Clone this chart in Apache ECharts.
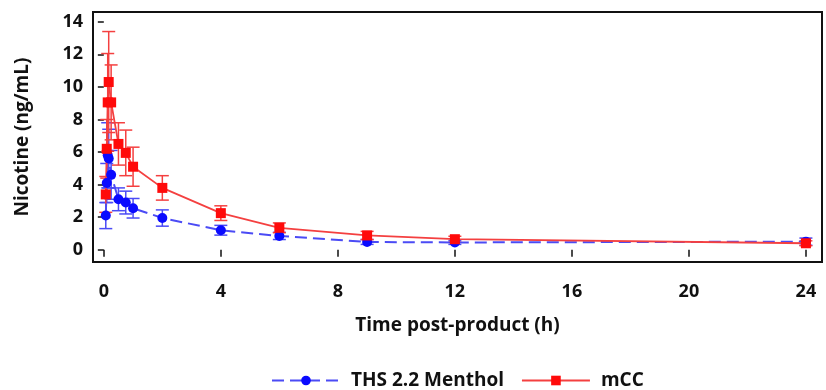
<!DOCTYPE html>
<html><head><meta charset="utf-8">
<script src="https://cdn.jsdelivr.net/npm/echarts@6/dist/echarts.min.js"></script>
<style>html,body{margin:0;padding:0;background:#fff}#c{width:826px;height:390px}</style>
</head><body><div id="c"></div>
<script>
var seriesNames = ['THS 2.2 Menthol', 'mCC'];
var thsTime = [0.067, 0.1, 0.133, 0.167, 0.25, 0.5, 0.75, 1, 2, 4, 6, 9, 12, 24];
var thsMean = [2.1, 4.1, 5.8, 5.6, 4.6, 3.1, 2.9, 2.55, 1.95, 1.2, 0.85, 0.48, 0.45, 0.5];
var thsErr  = [0.8, 1.2, 2.0, 1.8, 1.5, 0.7, 0.7, 0.6, 0.5, 0.3, 0.22, 0.15, 0.12, 0.22];
var mccTime = [0.067, 0.1, 0.133, 0.167, 0.25, 0.5, 0.75, 1, 2, 4, 6, 9, 12, 24];
var mccMean = [3.4, 6.2, 9.05, 10.3, 9.05, 6.5, 5.95, 5.1, 3.8, 2.25, 1.35, 0.88, 0.65, 0.4];
var mccErr  = [1.1, 1.8, 3.0, 3.1, 2.3, 1.3, 1.4, 1.2, 0.75, 0.45, 0.3, 0.25, 0.18, 0.15];
var xTicks = [0, 4, 8, 12, 16, 20, 24];
var yTicks = [0, 2, 4, 6, 8, 10, 12, 14];

function pairs(t, v) { return t.map(function (x, i) { return [x, v[i]]; }); }
function errData(t, v, e) { return t.map(function (x, i) { return [x, v[i] - e[i], v[i] + e[i]]; }); }
function errRender(color) {
  return function (params, api) {
    var lo = api.coord([api.value(0), api.value(1)]);
    var hi = api.coord([api.value(0), api.value(2)]);
    var w = 6.5;
    var st = { stroke: color, lineWidth: 1.5, fill: null };
    return { type: 'group', children: [
      { type: 'line', shape: { x1: lo[0], y1: lo[1], x2: hi[0], y2: hi[1] }, style: st },
      { type: 'line', shape: { x1: lo[0] - w, y1: lo[1], x2: lo[0] + w, y2: lo[1] }, style: st },
      { type: 'line', shape: { x1: hi[0] - w, y1: hi[1], x2: hi[0] + w, y2: hi[1] }, style: st }
    ]};
  };
}
var blueLine = '#4b4bf5', blueMark = '#0a0aff', redLine = '#f44040', redMark = '#ff0a0a';
var font = 'Open Sans';
var chart = echarts.init(document.getElementById('c'), null, { renderer: 'canvas' });
chart.setOption({
  animation: false,
  grid: { left: 93, right: 4, top: 12, bottom: 128, show: true, borderColor: '#111', borderWidth: 2, backgroundColor: 'transparent' },
  xAxis: {
    type: 'value', min: -0.37, max: 24.55,
    name: 'Time post-product (h)', nameLocation: 'middle', nameGap: 54,
    nameTextStyle: { fontFamily: font, fontWeight: 'bold', fontSize: 19, color: '#111' },
    axisLine: { show: false }, splitLine: { show: false },
    axisTick: { show: true, length: 7, lineStyle: { color: '#111', width: 1.5 }, customValues: xTicks },
    axisLabel: { fontFamily: font, fontWeight: 'bold', fontSize: 18, color: '#111', margin: 21, customValues: xTicks }
  },
  yAxis: {
    type: 'value', min: -0.75, max: 14.6,
    name: 'Nicotine (ng/mL)', nameLocation: 'middle', nameGap: 61, nameRotate: 90,
    nameTextStyle: { fontFamily: font, fontWeight: 'bold', fontSize: 19, color: '#111' },
    axisLine: { show: false }, splitLine: { show: false },
    axisTick: { show: true, length: 6, lineStyle: { color: '#111', width: 1.5 }, customValues: yTicks },
    axisLabel: { fontFamily: font, fontWeight: 'bold', fontSize: 18, color: '#111', margin: 10, customValues: yTicks }
  },
  legend: {
    top: 366, left: 266, itemWidth: 68, itemHeight: 12, itemGap: 17,
    textStyle: { fontFamily: font, fontWeight: 'bold', fontSize: 19, color: '#111', padding: [0, 0, 0, 6] },
    data: seriesNames
  },
  series: [
    { type: 'custom', name: 'thsErr', renderItem: errRender(blueLine), data: errData(thsTime, thsMean, thsErr), encode: { x: 0, y: [1, 2] }, z: 2 },
    { type: 'custom', name: 'mccErr', renderItem: errRender(redLine), data: errData(mccTime, mccMean, mccErr), encode: { x: 0, y: [1, 2] }, z: 2 },
    { type: 'line', name: seriesNames[0], data: pairs(thsTime, thsMean), symbol: 'circle', symbolSize: 10,
      itemStyle: { color: blueMark }, lineStyle: { color: blueLine, width: 2, type: [12, 6] }, z: 3 },
    { type: 'line', name: seriesNames[1], data: pairs(mccTime, mccMean), symbol: 'rect', symbolSize: 10,
      itemStyle: { color: redMark }, lineStyle: { color: redLine, width: 1.8 }, z: 3 }
  ]
});
</script></body></html>
